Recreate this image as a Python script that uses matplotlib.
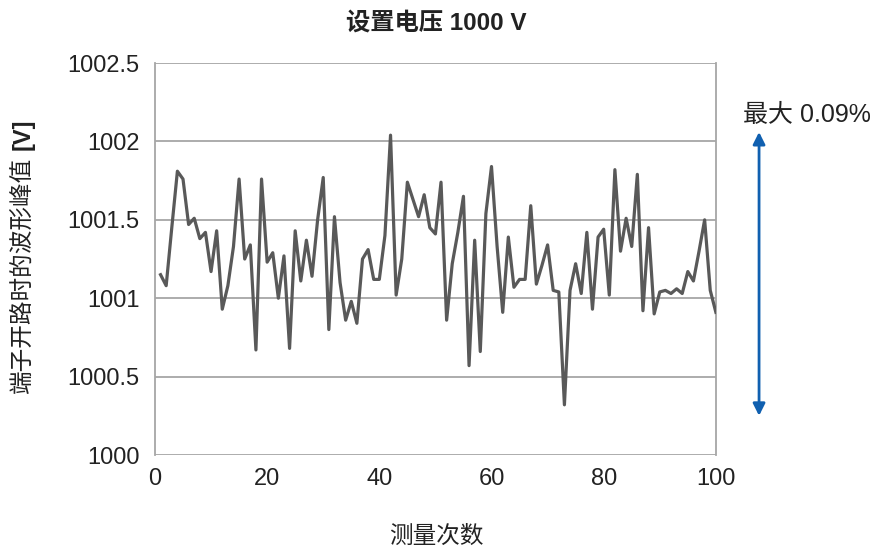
import matplotlib
matplotlib.use("Agg")
import matplotlib.pyplot as plt
import numpy as np

plt.rcParams['font.family'] = ['Liberation Sans', 'Noto Sans CJK SC']

count = np.arange(1, 101)
voltage = [
    1001.15, 1001.08, 1001.45, 1001.81, 1001.76, 1001.47, 1001.51, 1001.38, 1001.42, 1001.17,
    1001.43, 1000.93, 1001.08, 1001.33, 1001.76, 1001.25, 1001.34, 1000.67, 1001.76, 1001.23,
    1001.29, 1001.00, 1001.27, 1000.68, 1001.43, 1001.11, 1001.37, 1001.14, 1001.50, 1001.77,
    1000.80, 1001.52, 1001.10, 1000.86, 1000.98, 1000.84, 1001.25, 1001.31, 1001.12, 1001.12,
    1001.40, 1002.04, 1001.02, 1001.25, 1001.74, 1001.63, 1001.52, 1001.66, 1001.45, 1001.41,
    1001.74, 1000.86, 1001.22, 1001.42, 1001.65, 1000.57, 1001.37, 1000.66, 1001.54, 1001.84,
    1001.33, 1000.91, 1001.39, 1001.07, 1001.12, 1001.12, 1001.59, 1001.09, 1001.21, 1001.34,
    1001.05, 1001.04, 1000.32, 1001.05, 1001.22, 1001.03, 1001.42, 1000.93, 1001.39, 1001.44,
    1001.02, 1001.82, 1001.30, 1001.51, 1001.33, 1001.79, 1000.92, 1001.45, 1000.90, 1001.04,
    1001.05, 1001.03, 1001.06, 1001.03, 1001.17, 1001.11, 1001.30, 1001.50, 1001.05, 1000.91,
]
xticks = [0, 20, 40, 60, 80, 100]
yticks = [1000, 1000.5, 1001, 1001.5, 1002, 1002.5]
ytick_labels = ['1000', '1000.5', '1001', '1001.5', '1002', '1002.5']

fig = plt.figure(figsize=(8.73, 5.49), dpi=100)
ax = fig.add_axes([0.1775, 0.1712, 0.6425, 0.714])

ax.plot(count, voltage, color='#595959', linewidth=2.3, zorder=3)

ax.set_xlim(0, 100)
ax.set_ylim(1000, 1002.5)
ax.set_xticks(xticks)
ax.set_yticks(yticks)
ax.set_yticklabels(ytick_labels)
ax.tick_params(length=0, labelsize=17, colors='#222222')
ax.tick_params(axis='y', pad=11)
ax.tick_params(axis='x', pad=9)
ax.yaxis.grid(True, color='#a6a6a6', linewidth=1.3)
ax.set_axisbelow(True)
for side in ['top', 'bottom']:
    ax.spines[side].set_visible(False)
for side in ['left', 'right']:
    ax.spines[side].set_color('#a6a6a6')
    ax.spines[side].set_linewidth(1.3)

fig.text(0.5, 0.958, '设置电压 1000 V', ha='center', va='center',
         fontsize=17.5, fontweight='bold', color='#222222')
# y label: regular CJK part plus bold unit
fig.text(0.026, 0.284, '端子开路时的波形峰值', rotation=90,
         ha='center', va='bottom', fontsize=17, color='#222222')
fig.text(0.026, 0.727, '[V]', rotation=90, ha='center', va='bottom',
         fontsize=17, fontweight='bold', color='#222222')
fig.text(0.5, 0.022, '测量次数', ha='center', va='center',
         fontsize=17, color='#222222')

ax.annotate('', xy=(107.7, 1002.06), xytext=(107.7, 1000.25),
            arrowprops=dict(arrowstyle='<|-|>', color='#1060b0', lw=2,
                            mutation_scale=18, shrinkA=0, shrinkB=0),
            annotation_clip=False)
ax.text(104.8, 1002.17, '最大 0.09%', fontsize=18, color='#222222',
        ha='left', va='center', clip_on=False)

fig.savefig('out.png', dpi=100)
